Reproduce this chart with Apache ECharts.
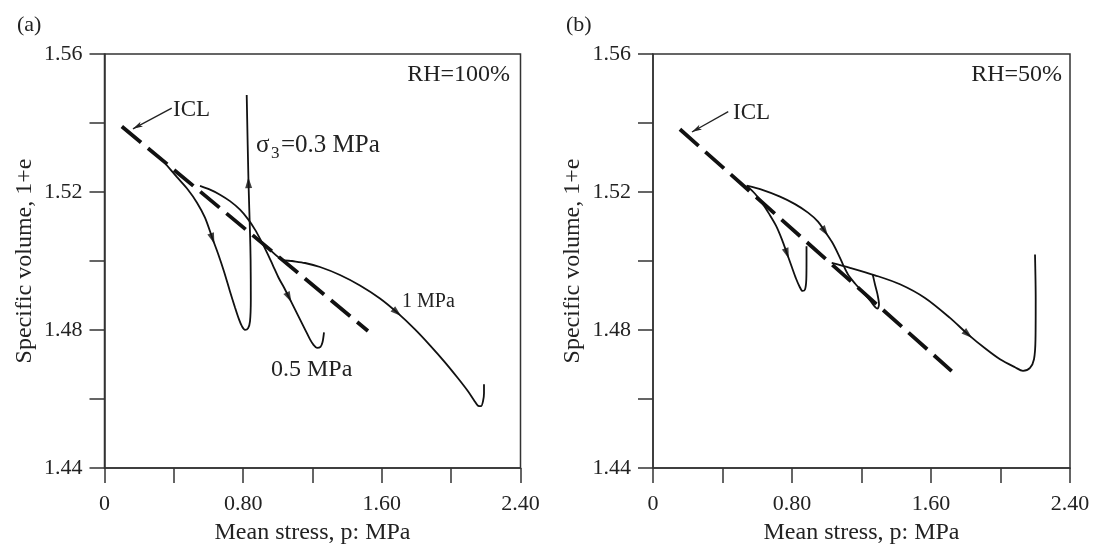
<!DOCTYPE html>
<html><head><meta charset="utf-8">
<script src="https://cdn.jsdelivr.net/npm/echarts@6/dist/echarts.min.js"></script>
<style>html,body{margin:0;padding:0;background:#fff}#c{width:1099px;height:550px}</style>
</head><body><div id="c"></div>
<script>
// ---------- tick labels ----------
const xTickLabels = ['0', '0.80', '1.60', '2.40'];
const yTickLabels = ['1.44', '1.48', '1.52', '1.56'];

// ---------- panel (a) RH = 100% ----------
const iclA = [[0.10, 1.5390], [1.52, 1.4797]];
const iclLeaderA = [[0.388, 1.5443], [0.164, 1.5383]];
const curveA03 = [[0.3519, 1.52819], [0.4183, 1.52429], [0.4817, 1.52067], [0.5337, 1.51691], [0.5798, 1.51257],
  [0.6231, 1.50650], [0.6548, 1.50216], [0.6894, 1.49696], [0.7240, 1.49117], [0.7529, 1.48655], [0.7760, 1.48308],
  [0.7933, 1.48105], [0.8106, 1.48004], [0.8279, 1.48047], [0.8394, 1.48250], [0.8441, 1.48886], [0.8429, 1.50043],
  [0.8394, 1.50824], [0.8308, 1.52270], [0.8204, 1.54814]];
const curveA05 = [[0.5510, 1.52177], [0.6087, 1.52067], [0.6664, 1.51923], [0.7241, 1.51735], [0.7818, 1.51489],
  [0.8279, 1.51214], [0.8683, 1.50910], [0.9029, 1.50592], [0.9375, 1.50245], [0.9721, 1.49869], [1.0067, 1.49493],
  [1.0356, 1.49233], [1.0644, 1.48944], [1.0990, 1.48597], [1.1336, 1.48250], [1.1625, 1.47961], [1.1856, 1.47729],
  [1.2058, 1.47570], [1.2260, 1.47484], [1.2462, 1.47513], [1.2577, 1.47643], [1.2664, 1.47932]];
const curveA10 = [[0.8567, 1.50737], [0.9433, 1.50375], [1.0223, 1.50043], [1.0817, 1.50000], [1.1567, 1.49942],
  [1.2433, 1.49826], [1.3587, 1.49595], [1.4740, 1.49291], [1.5894, 1.48915], [1.6875, 1.48510], [1.7913, 1.48018],
  [1.8779, 1.47556], [1.9644, 1.47064], [2.0394, 1.46602], [2.0971, 1.46226], [2.1317, 1.45966], [2.1548, 1.45806],
  [2.1721, 1.45792], [2.1837, 1.45936], [2.1894, 1.46168], [2.1894, 1.46428]];
const arrowsA = [[curveA03, 5], [curveA03, 18], [curveA05, 12], [curveA10, 9]];

// ---------- panel (b) RH = 50% ----------
const iclB = [[0.155, 1.5382], [1.719, 1.4681]];
const iclLeaderB = [[0.433, 1.5433], [0.224, 1.5374]];
const curveB03 = [[0.5393, 1.52183], [0.5871, 1.51949], [0.6273, 1.51691], [0.6676, 1.51373], [0.7079, 1.51026],
  [0.7424, 1.50621], [0.7712, 1.50216], [0.8000, 1.49811], [0.8230, 1.49493], [0.8432, 1.49262], [0.8604, 1.49132],
  [0.8748, 1.49175], [0.8823, 1.49465], [0.8835, 1.49985], [0.8835, 1.50428]];
const curveB05 = [[0.5393, 1.52183], [0.6331, 1.52053], [0.7309, 1.51865], [0.8173, 1.51648], [0.8921, 1.51402],
  [0.9496, 1.51142], [0.9899, 1.50853], [1.0302, 1.50549], [1.0647, 1.50216], [1.0935, 1.49898], [1.1223, 1.49609],
  [1.1626, 1.49349], [1.2086, 1.49089], [1.2489, 1.48857], [1.2777, 1.48669], [1.2921, 1.48617], [1.3007, 1.48742],
  [1.2921, 1.49031], [1.2777, 1.49320], [1.2645, 1.49609]];
const curveB10 = [[1.0285, 1.49947], [1.1338, 1.49803], [1.2777, 1.49586], [1.4216, 1.49326], [1.5655, 1.48929],
  [1.7094, 1.48351], [1.8129, 1.47874], [1.9108, 1.47469], [1.9971, 1.47151], [2.0835, 1.46920], [2.1295, 1.46818],
  [2.1698, 1.46905], [2.1928, 1.47151], [2.2014, 1.47729], [2.2026, 1.48886], [2.1986, 1.50187]];
const arrowsB = [[curveB03, 6], [curveB05, 6], [curveB10, 6]];

// ---------- styles ----------
const SERIF = '"Liberation Serif", "DejaVu Serif", serif';
const INK = '#111';
const AXC = '#333';

const chart = echarts.init(document.getElementById('c'), null, {renderer: 'canvas'});

function xFmt(v) { const s = Math.abs(v) < 1e-9 ? '0' : v.toFixed(2); return xTickLabels.includes(s) ? s : ''; }
function yFmt(v) { const s = v.toFixed(2); return yTickLabels.includes(s) ? s : ''; }

function makeX(gi) {
  return {
    type: 'value', gridIndex: gi, min: 0, max: 2.4, interval: 0.4,
    name: 'Mean stress, p: MPa', nameLocation: 'middle', nameGap: 53,
    nameTextStyle: {fontFamily: SERIF, fontSize: 24, color: '#222'},
    axisLine: {show: true, onZero: false, lineStyle: {color: AXC, width: 1.5}},
    axisTick: {show: true, inside: false, length: 15, lineStyle: {color: AXC, width: 1.5}},
    axisLabel: {formatter: xFmt, margin: 25, fontFamily: SERIF, fontSize: 22, color: '#222', showMinLabel: true, showMaxLabel: true},
    splitLine: {show: false}
  };
}
function makeY(gi) {
  return {
    type: 'value', gridIndex: gi, min: 1.44, max: 1.56, interval: 0.02,
    name: 'Specific volume, 1+e', nameLocation: 'middle', nameGap: 68,
    nameTextStyle: {fontFamily: SERIF, fontSize: 24, color: '#222'},
    axisLine: {show: true, onZero: false, lineStyle: {color: AXC, width: 1.5}},
    axisTick: {show: true, inside: false, length: 15, lineStyle: {color: AXC, width: 1.5}},
    axisLabel: {formatter: yFmt, margin: 22, fontFamily: SERIF, fontSize: 22, color: '#222', showMinLabel: true, showMaxLabel: true},
    splitLine: {show: false}
  };
}

function curve(data, gi) {
  return {type: 'line', xAxisIndex: gi, yAxisIndex: gi, data: data, smooth: 0.3, showSymbol: false,
    symbol: 'none', silent: true, z: 3, lineStyle: {color: INK, width: 1.8}};
}
function icl(data, leader, gi) {
  return {type: 'line', xAxisIndex: gi, yAxisIndex: gi, data: data, showSymbol: false, symbol: 'none', silent: true, z: 4,
    lineStyle: {color: INK, width: 3.8, type: [25, 9], cap: 'butt'},
    markLine: {silent: true, symbol: ['none', 'arrow'], symbolSize: [4, 10], label: {show: false},
      lineStyle: {type: 'solid', color: '#222', width: 1.3, curveness: -0.45},
      data: [[{coord: leader[0]}, {coord: leader[1]}]]}};
}
function arrowSeries(list, gi, rot) {
  return {type: 'scatter', xAxisIndex: gi, yAxisIndex: gi, silent: true, z: 5, symbol: 'triangle', symbolSize: [7, 11],
    itemStyle: {color: INK},
    data: list.map((a, i) => ({value: a[0][a[1]], symbolRotate: rot ? rot[i] : 0}))};
}

function buildOption(rotA, rotB) {
  return {
    animation: false,
    backgroundColor: '#fff',
    grid: [
      {left: 104.5, right: 578.5, top: 54, bottom: 81, show: true, borderColor: AXC, borderWidth: 1.5, backgroundColor: 'transparent'},
      {left: 653, right: 29, top: 54, bottom: 81, show: true, borderColor: AXC, borderWidth: 1.5, backgroundColor: 'transparent'}
    ],
    xAxis: [makeX(0), makeX(1)],
    yAxis: [makeY(0), makeY(1)],
    series: [
      curve(curveA03, 0), curve(curveA05, 0), curve(curveA10, 0), icl(iclA, iclLeaderA, 0), arrowSeries(arrowsA, 0, rotA),
      curve(curveB03, 1), curve(curveB05, 1), curve(curveB10, 1), icl(iclB, iclLeaderB, 1), arrowSeries(arrowsB, 1, rotB)
    ],
    graphic: [
      {type: 'text', x: 17, y: 25, style: {text: '(a)', font: '22px ' + SERIF, fill: '#222', align: 'left', verticalAlign: 'middle'}},
      {type: 'text', x: 566, y: 25, style: {text: '(b)', font: '22px ' + SERIF, fill: '#222', align: 'left', verticalAlign: 'middle'}},
      {type: 'text', x: 510, y: 75, style: {text: 'RH=100%', font: '24px ' + SERIF, fill: '#222', align: 'right', verticalAlign: 'middle'}},
      {type: 'text', x: 1062, y: 75, style: {text: 'RH=50%', font: '24px ' + SERIF, fill: '#222', align: 'right', verticalAlign: 'middle'}},
      {type: 'text', x: 173, y: 110, style: {text: 'ICL', font: '23px ' + SERIF, fill: '#222', align: 'left', verticalAlign: 'middle'}},
      {type: 'text', x: 733, y: 113, style: {text: 'ICL', font: '23px ' + SERIF, fill: '#222', align: 'left', verticalAlign: 'middle'}},
      {type: 'text', x: 256, y: 145, style: {text: 'σ', font: '25px ' + SERIF, fill: '#222', align: 'left', verticalAlign: 'middle'}},
      {type: 'text', x: 271, y: 154, style: {text: '3', font: '17px ' + SERIF, fill: '#222', align: 'left', verticalAlign: 'middle'}},
      {type: 'text', x: 281, y: 145, style: {text: '=0.3 MPa', font: '25px ' + SERIF, fill: '#222', align: 'left', verticalAlign: 'middle'}},
      {type: 'text', x: 271, y: 370, style: {text: '0.5 MPa', font: '24px ' + SERIF, fill: '#222', align: 'left', verticalAlign: 'middle'}},
      {type: 'text', x: 402, y: 302, style: {text: '1 MPa', font: '20px ' + SERIF, fill: '#222', align: 'left', verticalAlign: 'middle'}}
    ]
  };
}

chart.setOption(buildOption(null, null));

function rotations(list, gi) {
  return list.map(a => {
    const arr = a[0], i = a[1];
    const p0 = chart.convertToPixel({gridIndex: gi}, arr[Math.max(0, i - 1)]);
    const p1 = chart.convertToPixel({gridIndex: gi}, arr[Math.min(arr.length - 1, i + 1)]);
    const theta = Math.atan2(-(p1[1] - p0[1]), p1[0] - p0[0]) * 180 / Math.PI;
    return theta - 90;
  });
}
chart.setOption(buildOption(rotations(arrowsA, 0), rotations(arrowsB, 1)));
</script></body></html>
